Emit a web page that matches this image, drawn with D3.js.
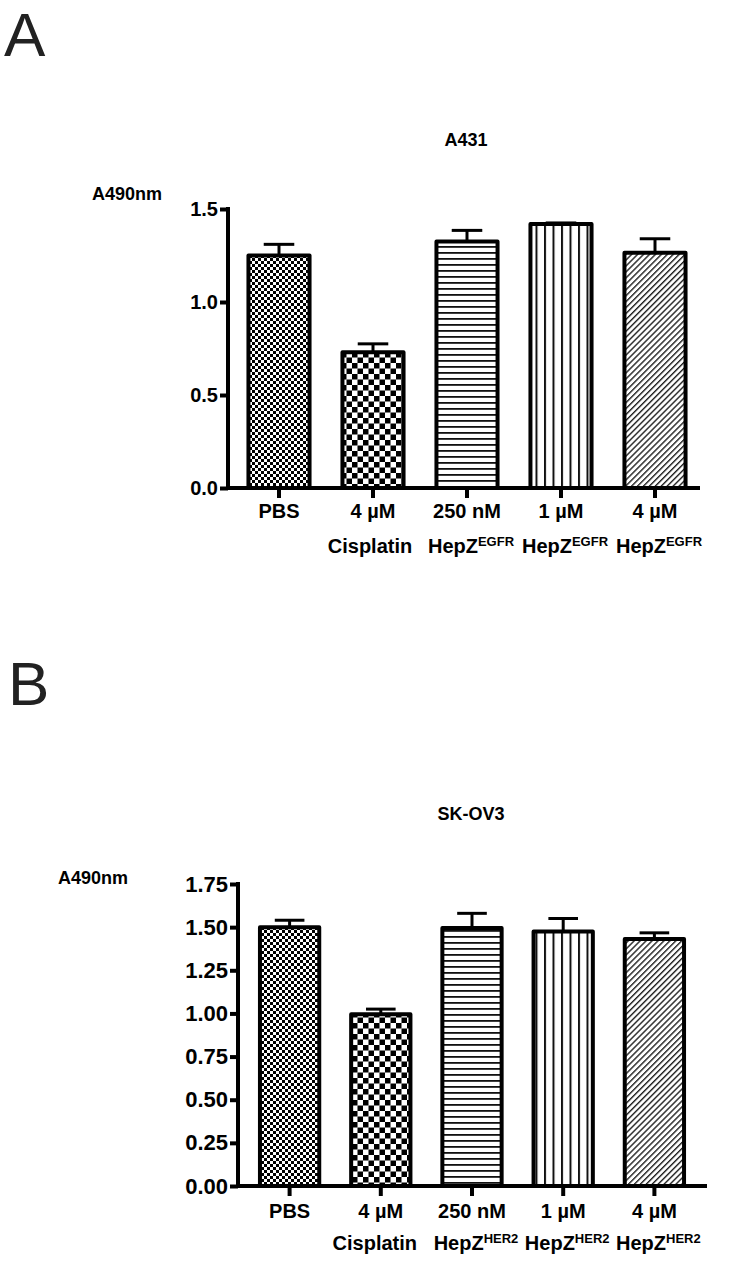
<!DOCTYPE html>
<html>
<head>
<meta charset="utf-8">
<script src="https://cdn.jsdelivr.net/npm/d3@7"></script>
<style>
  html, body { margin: 0; padding: 0; background: #fff; }
  svg { display: block; }
  text { font-family: "Liberation Sans", Arial, sans-serif; }
</style>
</head>
<body>
<svg id="chart" width="733" height="1267"></svg>
<script>
// ---------- data ----------
const categories = ["PBS", "4 µM", "250 nM", "1 µM", "4 µM"];
const drugNames = ["", "Cisplatin", "HepZ", "HepZ", "HepZ"];
const supA = ["", "", "EGFR", "EGFR", "EGFR"];
const supB = ["", "", "HER2", "HER2", "HER2"];
const patternIds = ["pFine", "pCheck", "pHoriz", "pVert", "pDiag"];

const valuesA = [1.25, 0.73, 1.325, 1.42, 1.265];
const errorsA = [0.06, 0.045, 0.06, 0.005, 0.075];
const ticksA = [0.0, 0.5, 1.0, 1.5];

const valuesB = [1.50, 0.995, 1.495, 1.475, 1.432];
const errorsB = [0.04, 0.03, 0.085, 0.075, 0.035];
const ticksB = [0.00, 0.25, 0.50, 0.75, 1.00, 1.25, 1.50, 1.75];

const svg = d3.select("#chart");
const defs = svg.append("defs");

function pat(id, w, h, draw, transform) {
  const p = defs.append("pattern").attr("id", id)
    .attr("patternUnits", "userSpaceOnUse").attr("width", w).attr("height", h);
  if (transform) p.attr("patternTransform", transform);
  p.append("rect").attr("width", w).attr("height", h).attr("fill", "#fff");
  draw(p);
}
pat("pFine", 6, 6, p => {
  p.append("rect").attr("x", 0).attr("y", 0).attr("width", 3).attr("height", 3).attr("fill", "#000");
  p.append("rect").attr("x", 3).attr("y", 3).attr("width", 3).attr("height", 3).attr("fill", "#000");
});
pat("pCheck", 11, 11, p => {
  p.append("rect").attr("x", 0).attr("y", 0).attr("width", 5.5).attr("height", 5.5).attr("fill", "#000");
  p.append("rect").attr("x", 5.5).attr("y", 5.5).attr("width", 5.5).attr("height", 5.5).attr("fill", "#000");
});
pat("pHoriz", 10, 6, p => {
  p.append("rect").attr("x", 0).attr("y", 0).attr("width", 10).attr("height", 1.8).attr("fill", "#111");
});
pat("pVert", 8.5, 10, p => {
  p.append("rect").attr("x", 0).attr("y", 0).attr("width", 2).attr("height", 10).attr("fill", "#111");
});
pat("pDiag", 4.2, 10, p => {
  p.append("rect").attr("x", 0).attr("y", 0).attr("width", 1.4).attr("height", 10).attr("fill", "#222");
}, "rotate(45)");

function panel(cfg) {
  const g = svg.append("g");
  const y = d3.scaleLinear().domain([0, cfg.yMax]).range([cfg.y0, cfg.yTop]);
  const x = d3.scaleBand().domain(d3.range(categories.length))
    .range([cfg.xr0, cfg.xr1]).paddingInner(0.35).paddingOuter(0.175);

  g.append("text").attr("x", cfg.letterX).attr("y", cfg.letterY)
    .attr("font-size", 62).attr("fill", "#222").text(cfg.letter);
  g.append("text").attr("x", cfg.titleX).attr("y", cfg.titleY)
    .attr("text-anchor", "middle").attr("font-size", 18).attr("font-weight", "bold")
    .text(cfg.title);
  g.append("text").attr("x", cfg.ylabX).attr("y", cfg.ylabY)
    .attr("font-size", 18).attr("font-weight", "bold").text("A490nm");

  const bars = g.append("g");
  cfg.values.forEach((v, i) => {
    const bx = x(i), bw = x.bandwidth();
    const cx = bx + bw / 2;
    bars.append("line").attr("x1", cx).attr("x2", cx)
      .attr("y1", y(v)).attr("y2", y(v + cfg.errors[i]))
      .attr("stroke", "#000").attr("stroke-width", 3);
    bars.append("line").attr("x1", cx - bw / 4).attr("x2", cx + bw / 4)
      .attr("y1", y(v + cfg.errors[i])).attr("y2", y(v + cfg.errors[i]))
      .attr("stroke", "#000").attr("stroke-width", 3);
    bars.append("rect").attr("x", bx).attr("y", y(v))
      .attr("width", bw).attr("height", y(0) - y(v))
      .attr("fill", "url(#" + patternIds[i] + ")")
      .attr("stroke", "#000").attr("stroke-width", 4).attr("stroke-linejoin", "round");
  });

  const yAxis = d3.axisLeft(y).tickValues(cfg.ticks).tickFormat(d3.format(cfg.fmt))
    .tickSize(8).tickPadding(2);
  const ya = g.append("g").attr("transform", `translate(${cfg.yAxisX},0)`).call(yAxis);
  ya.select(".domain").attr("stroke-width", 4).attr("d", `M0,${cfg.y0 + 2}V${cfg.yTop - 2}`);
  ya.selectAll(".tick line").attr("stroke-width", 4);
  ya.selectAll(".tick text").attr("font-size", cfg.tickFont).attr("font-weight", "bold")
    .attr("font-family", "Liberation Sans, Arial, sans-serif").attr("fill", "#000");

  const xAxis = d3.axisBottom(x).tickFormat(i => categories[i]).tickSize(10).tickPadding(10);
  const xa = g.append("g").attr("transform", `translate(0,${cfg.y0})`).call(xAxis);
  xa.select(".domain").attr("stroke-width", 4).attr("d", `M${cfg.yAxisX - 2},0H${cfg.xEnd}`);
  xa.selectAll(".tick line").attr("stroke-width", 4);
  xa.selectAll(".tick text").attr("font-size", 20).attr("font-weight", "bold")
    .attr("font-family", "Liberation Sans, Arial, sans-serif").attr("fill", "#000")
    .attr("y", cfg.row1Off).attr("dy", 0);

  drugNames.forEach((name, i) => {
    if (!name) return;
    const cx = x(i) + x.bandwidth() / 2 + (cfg.sup[i] ? cfg.supShift : cfg.plainShift);
    const t = g.append("text").attr("x", cx).attr("y", cfg.row2Y)
      .attr("text-anchor", "middle").attr("font-size", 20).attr("font-weight", "bold");
    t.append("tspan").text(name);
    if (cfg.sup[i]) {
      t.append("tspan").attr("font-size", 13).attr("dy", -7).text(cfg.sup[i]);
    }
  });
}

panel({
  letter: "A", letterX: 4, letterY: 56,
  title: "A431", titleX: 466, titleY: 146,
  ylabX: 92, ylabY: 200,
  values: valuesA, errors: errorsA, ticks: ticksA, fmt: ".1f", yMax: 1.5,
  y0: 488, yTop: 209, yAxisX: 228, xr0: 232, xr1: 702, xEnd: 700,
  tickFont: 20, row1Off: 30, row2Y: 553, sup: supA, supShift: 4, plainShift: -3
});

panel({
  letter: "B", letterX: 8, letterY: 705,
  title: "SK-OV3", titleX: 471, titleY: 820,
  ylabX: 58, ylabY: 884,
  values: valuesB, errors: errorsB, ticks: ticksB, fmt: ".2f", yMax: 1.75,
  y0: 1186, yTop: 884, yAxisX: 238, xr0: 244, xr1: 700, xEnd: 707,
  tickFont: 22, row1Off: 32, row2Y: 1250, sup: supB, supShift: 4, plainShift: -6
});
</script>
</body>
</html>
